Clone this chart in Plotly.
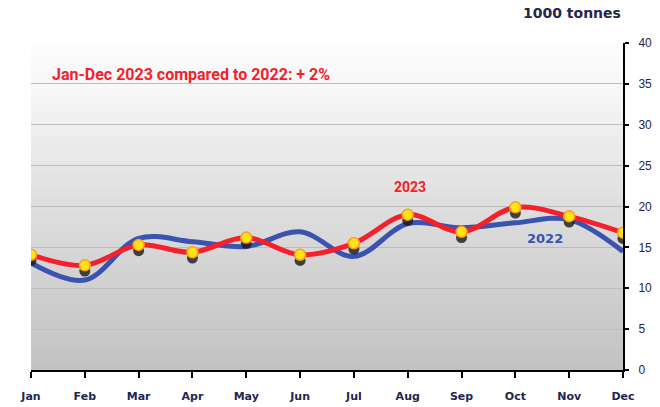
import plotly.graph_objects as go

months = ["Jan", "Feb", "Mar", "Apr", "May", "Jun", "Jul", "Aug", "Sep", "Oct", "Nov", "Dec"]
y2022 = [13.1, 11.0, 16.1, 15.7, 15.1, 16.9, 13.9, 17.9, 17.4, 18.0, 18.4, 14.5]
y2023 = [14.1, 12.8, 15.3, 14.4, 16.2, 14.1, 15.5, 19.0, 16.9, 19.9, 18.8, 16.8]
y_ticks = [0, 5, 10, 15, 20, 25, 30, 35, 40]

x = list(range(len(months)))
shadow_drop = 0.7

BLUE = "#3a52b0"
RED = "#f5202c"
NAVY = "#25254d"

fig = go.Figure()

# 2022 line
fig.add_trace(go.Scatter(
    x=x, y=y2022, mode="lines",
    line=dict(color=BLUE, width=5, shape="spline", smoothing=1.0),
    hoverinfo="skip", showlegend=False,
))
# soft drop shadow beneath the 2023 points
fig.add_trace(go.Scatter(
    x=x, y=[v - shadow_drop for v in y2023], mode="markers",
    marker=dict(color="rgba(25,25,25,0.8)", size=11, line=dict(width=0)),
    hoverinfo="skip", showlegend=False,
))
# 2023 line with markers
fig.add_trace(go.Scatter(
    x=x, y=y2023, mode="lines+markers",
    line=dict(color=RED, width=5, shape="spline", smoothing=1.0),
    marker=dict(color="#ffe21a", size=11, line=dict(color="#ff9a1a", width=1.5)),
    hoverinfo="skip", showlegend=False,
))

# vertical grey gradient behind the plot
def grad(t):
    # t = 0 bottom, 1 top
    stops = [(0.0, 194), (0.5, 222), (0.85, 246), (1.0, 253)]
    for (t0, c0), (t1, c1) in zip(stops, stops[1:]):
        if t <= t1:
            f = (t - t0) / (t1 - t0)
            return int(round(c0 + (c1 - c0) * f))
    return stops[-1][1]

shapes = []
n = 80
for i in range(n):
    y0 = 40 * i / n
    y1 = min(40, 40 * (i + 1) / n + 0.4)
    c = grad((i + 0.5) / n)
    shapes.append(dict(
        type="rect", xref="paper", yref="y", x0=0, x1=1, y0=y0, y1=y1,
        fillcolor=f"rgb({c},{c},{c})", line=dict(width=0), layer="below",
    ))

fig.update_layout(
    width=660, height=407,
    margin=dict(l=31, r=37, t=43, b=37, autoexpand=False),
    paper_bgcolor="white", plot_bgcolor="white",
    shapes=shapes,
    font=dict(family="DejaVu Sans", color=NAVY),
    xaxis=dict(
        range=[0, 11], tickvals=x, ticktext=[f"<b>{m}</b>" for m in months],
        showgrid=False, zeroline=False, showline=True, linecolor="black", linewidth=2,
        ticks="outside", ticklen=6, tickwidth=2, tickcolor="black",
        ticklabelstandoff=9, automargin=False,
        tickfont=dict(size=11, color=NAVY, family="DejaVu Sans"),
    ),
    yaxis=dict(
        range=[0, 40], side="right", tickvals=y_ticks,
        showgrid=True, gridcolor="#bcbcbc", gridwidth=1, zeroline=False,
        showline=True, linecolor="black", linewidth=2,
        ticks="outside", ticklen=4, tickwidth=2, tickcolor="black",
        ticklabelstandoff=7, automargin=False,
        tickfont=dict(size=12, color=NAVY, family="Liberation Sans"),
    ),
    annotations=[
        dict(text="<b>1000 tonnes</b>", xref="paper", yref="paper", x=1.0, y=1.0,
             xanchor="right", yanchor="bottom", yshift=20, xshift=0, showarrow=False,
             font=dict(size=14, color=NAVY, family="DejaVu Sans")),
        dict(text="<b>Jan-Dec 2023 compared to 2022: + 2%</b>", xref="paper", yref="y",
             x=0.032, y=36.1, xanchor="left", yanchor="middle", showarrow=False,
             font=dict(size=16, color=RED, family="Roboto")),
        dict(text="<b>2023</b>", xref="x", yref="y", x=7.05, y=22.4,
             showarrow=False, font=dict(size=14, color=RED, family="Roboto")),
        dict(text="<b>2022</b>", xref="x", yref="y", x=9.55, y=16.1,
             showarrow=False, font=dict(size=13, color=BLUE, family="DejaVu Sans")),
    ],
)

fig.write_html("out.html")
